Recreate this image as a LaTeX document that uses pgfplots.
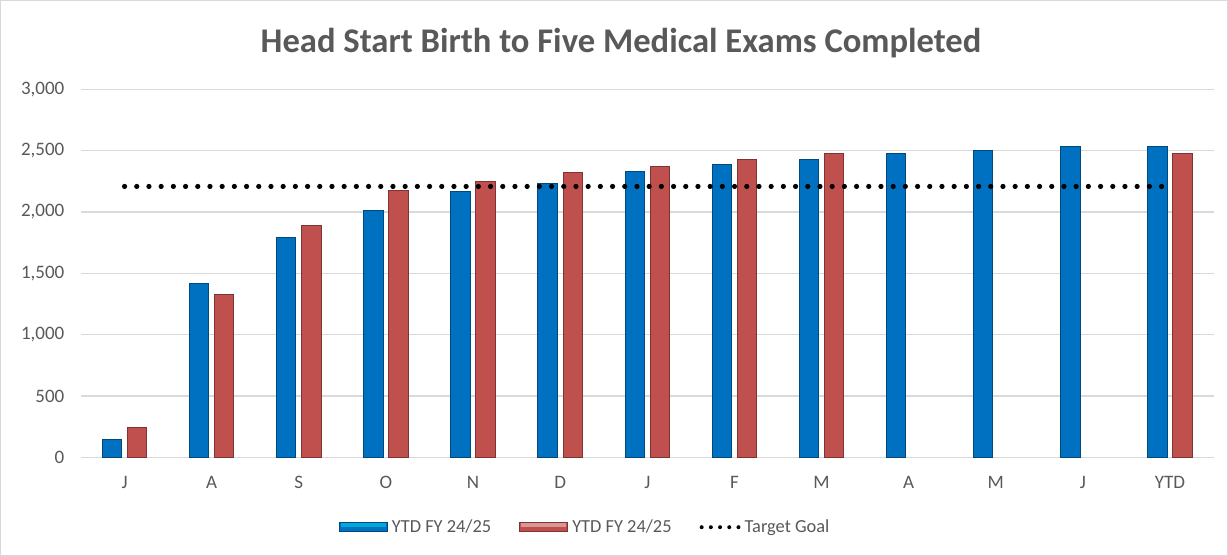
\documentclass[border=0pt]{standalone}
\usepackage{pgfplots}
\pgfplotsset{compat=1.18}
\usepackage{fontspec}
\setmainfont{Carlito}
\definecolor{txt}{HTML}{595959}
\definecolor{gridc}{HTML}{D9D9D9}
\definecolor{bblue}{HTML}{0070C0}
\definecolor{bred}{HTML}{C0504D}
\pgfplotstableread{
x blue
0 141
1 1416
2 1791
3 2008
4 2169
5 2234
6 2326
7 2386
8 2424
9 2473
10 2500
11 2536
12 2536
}\blueT
\pgfplotstableread{
x red
0 241
1 1329
2 1892
3 2177
4 2245
5 2318
6 2373
7 2430
8 2476
12 2476
}\redT
\begin{document}
\begin{tikzpicture}
\path[draw=gridc, line width=0.6pt, fill=white] (0.3pt,0.3pt) rectangle (613.7pt,277.7pt);
\node[text=txt, font=\fontsize{17.3}{20}\selectfont\bfseries] at (310.5pt,256.5pt) {Head Start Birth to Five Medical Exams Completed};
\begin{axis}[
  at={(40.5pt,49.35pt)}, anchor=south west,
  scale only axis, width=566.3pt, height=184pt,
  xmin=-0.5, xmax=12.5, ymin=0, ymax=3000,
  ytick={0,500,...,3000},
  xtick={0,...,12},
  xticklabels={J,A,S,O,N,D,J,F,M,A,M,J,YTD},
  ymajorgrids, grid style={gridc, line width=0.6pt},
  axis line style={draw=none},
  major tick length=0pt,
  tick label style={text=txt, font=\fontsize{9.5}{11}\selectfont},
  yticklabel style={xshift=-4.8pt},
  xticklabel style={yshift=-6pt},
  /pgf/number format/.cd, 1000 sep={,}, assume math mode=true,
  /pgfplots/.cd,
  legend columns=3,
  legend style={at={(0.446,-0.19)}, anchor=center, draw=none, fill=none,
    font=\fontsize{9.2}{11}\selectfont, text=txt,
    /tikz/every even column/.append style={column sep=12pt},
    /tikz/every odd column/.append style={column sep=0pt}},
  clip=false,
]
\addplot[ybar, bar width=9.7pt, bar shift=-6.3pt, draw=bblue!65!black, line width=0.5pt, fill=bblue,
  legend image code/.code={\draw[draw=bblue!65!black, line width=0.5pt, fill=bblue] (0pt,-2.25pt) rectangle (24pt,2.25pt);
  \fill[bblue!60!cyan] (1pt,0.2pt) rectangle (23pt,1.9pt);}]
  table[x=x, y=blue] {\blueT};
\addlegendentry{YTD FY 24/25}
\addplot[ybar, bar width=9.7pt, bar shift=6.3pt, draw=bred!65!black, line width=0.5pt, fill=bred,
  legend image code/.code={\draw[draw=bred!65!black, line width=0.5pt, fill=bred] (0pt,-2.25pt) rectangle (24pt,2.25pt);
  \fill[bred!60!white] (1pt,0.2pt) rectangle (23pt,1.9pt);}]
  table[x=x, y=red] {\redT};
\addlegendentry{YTD FY 24/25}
\addplot[black, line width=2.6pt, line cap=round, dash pattern=on 0pt off 6.1pt,
  legend image code/.code={\draw[black, line width=2pt, line cap=round, dash pattern=on 0pt off 4.6pt] (1pt,0pt) -- (19.5pt,0pt);}]
  coordinates {(0,2208) (12,2208)};
\addlegendentry{Target Goal}
\end{axis}
\end{tikzpicture}
\end{document}
